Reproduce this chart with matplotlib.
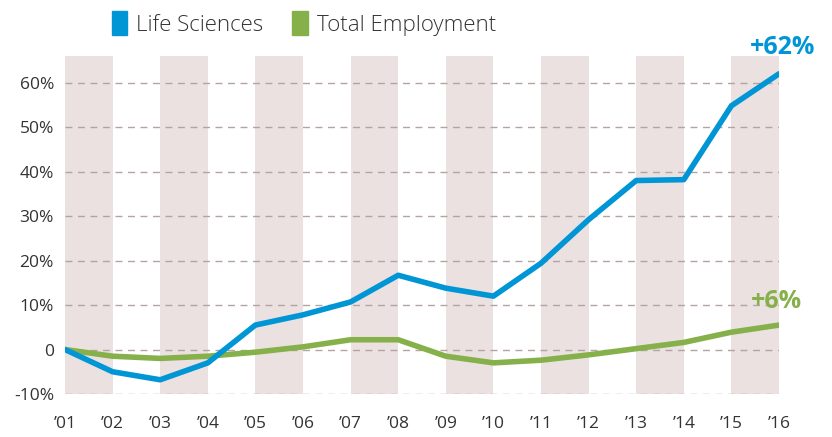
import matplotlib.pyplot as plt
from matplotlib.patches import Patch
import numpy as np

# donnees
annees = ["\u201901", "\u201902", "\u201903", "\u201904", "\u201905", "\u201906", "\u201907", "\u201908",
          "\u201909", "\u201910", "\u201911", "\u201912", "\u201913", "\u201914", "\u201915", "\u201916"]
life_sciences = [0, -5.0, -6.8, -3.0, 5.5, 7.8, 10.7, 16.7, 13.8, 12.0, 19.4, 29.2, 38.0, 38.2, 54.8, 62.0]
total_emploi = [0, -1.5, -2.0, -1.5, -0.6, 0.6, 2.2, 2.2, -1.5, -3.0, -2.4, -1.2, 0.2, 1.6, 3.9, 5.5]
yticks = [-10, 0, 10, 20, 30, 40, 50, 60]
ylabels = ["-10%", "0", "10%", "20%", "30%", "40%", "50%", "60%"]

bleu = "#0096d6"
vert = "#86b04a"
bande = "#ebe1e1"
grille = "#b3a4a1"
texte = "#333333"

plt.rcParams['font.family'] = ['Open Sans', 'DejaVu Sans']

fig = plt.figure(figsize=(8.32, 4.37), dpi=100)
ax = fig.add_axes([65/832, 1-394/437, (779-65)/832, (394-56)/437])

x = np.arange(len(annees))

# bandes verticales
for i in range(0, len(annees)-1, 2):
    ax.axvspan(x[i], x[i+1], color=bande, lw=0, zorder=0)

for v in yticks:
    ax.axhline(v, color=grille, lw=1, ls=(0, (5, 4)), zorder=1)

ax.plot(x, total_emploi, color=vert, lw=4, solid_capstyle='round', solid_joinstyle='round', zorder=3)
ax.plot(x, life_sciences, color=bleu, lw=4, solid_capstyle='round', solid_joinstyle='round', zorder=4)

ax.text(x[-1]+0.07, life_sciences[-1]+3.2, "+62%", color=bleu, fontsize=18, fontweight='bold',
        ha='center', va='bottom')
ax.text(x[-1]-0.05, total_emploi[-1]+2.6, "+6%", color=vert, fontsize=18, fontweight='bold',
        ha='center', va='bottom')

ax.set_xlim(x[0], x[-1])
ax.set_ylim(-10, 66)
ax.set_xticks(x)
ax.set_xticklabels(annees)
ax.set_yticks(yticks)
ax.set_yticklabels(ylabels)
ax.tick_params(length=0, labelsize=12.5, colors=texte)
ax.tick_params(axis='x', pad=16)
ax.tick_params(axis='y', pad=8)
for s in ax.spines.values():
    s.set_visible(False)

handles = [Patch(color=bleu, label="Life Sciences"), Patch(color=vert, label="Total Employment")]
leg = fig.legend(handles=handles, loc='upper center', bbox_to_anchor=(0.365, 1.02), ncol=2, frameon=False,
                 fontsize=16, handlelength=0.7, handleheight=1.3, handletextpad=0.4, columnspacing=1.3)
for t in leg.get_texts():
    t.set_color(texte)
    t.set_fontweight('light')

fig.savefig("out.png", dpi=100)
